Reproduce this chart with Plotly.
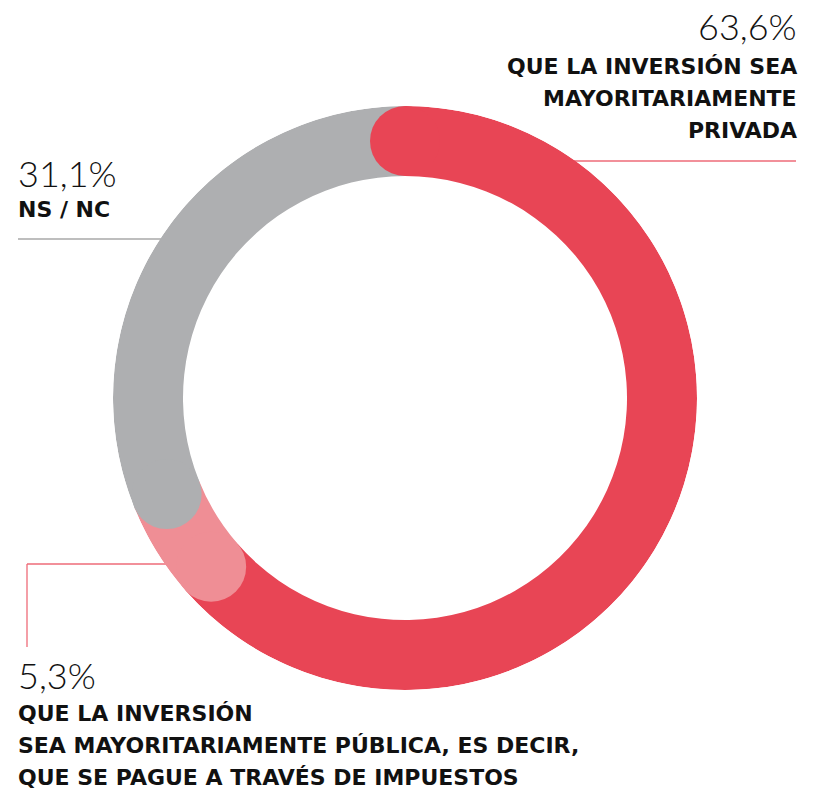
import plotly.graph_objects as go

# ---- data ----
categories = ["QUE LA INVERSIÓN SEA MAYORITARIAMENTE PRIVADA",
              "QUE LA INVERSIÓN SEA MAYORITARIAMENTE PÚBLICA, ES DECIR, QUE SE PAGUE A TRAVÉS DE IMPUESTOS",
              "NS / NC"]
values = [63.6, 5.3, 31.1]
pct_labels = ["63,6%", "5,3%", "31,1%"]
colors = ["#E84555", "#EF8E95", "#AEAFB1"]

W, H = 821, 790
CX, CY = 405, 398          # ring centre (px)
R_OUT, R_IN = 292, 222
THICK = R_OUT - R_IN

def px(x):
    return x / W

def py(y):
    return 1 - y / H

# angular geometry from the data
total = sum(values)
starts, spans = [], []
acc = 0.0
for v in values:
    starts.append(acc / total * 360)
    spans.append(v / total * 360)
    acc += v
mids = [s + w / 2 for s, w in zip(starts, spans)]

fig = go.Figure()
fig.add_trace(go.Barpolar(
    r=[THICK] * len(values), base=[R_IN] * len(values),
    theta=mids, width=spans,
    marker=dict(color=colors, line=dict(width=0)),
    hoverinfo="skip", showlegend=False,
))
# rounded caps at the start of every segment
fig.add_trace(go.Scatterpolar(
    r=[R_IN + THICK / 2] * len(values), theta=starts, mode="markers",
    marker=dict(size=THICK, color=colors, line=dict(width=0), opacity=1),
    hoverinfo="skip", showlegend=False,
))

fig.update_layout(
    width=W, height=H,
    margin=dict(l=0, r=0, t=0, b=0),
    paper_bgcolor="white",
    showlegend=False,
    polar=dict(
        domain=dict(x=[px(CX - R_OUT), px(CX + R_OUT)],
                    y=[py(CY + R_OUT), py(CY - R_OUT)]),
        bgcolor="rgba(0,0,0,0)",
        radialaxis=dict(range=[0, R_OUT], visible=False, showgrid=False,
                        showline=False, ticks=""),
        angularaxis=dict(rotation=90, direction="clockwise", visible=False,
                         showgrid=False, showline=False, ticks="",
                         thetaunit="degrees"),
    ),
)

NUM_FONT = dict(family="Lato", size=36, color="#111111", weight=300)
LBL_FONT = dict(family="DejaVu Sans", size=22, color="#111111", weight="bold")

def ann(text, x, y, xanchor, font):
    fig.add_annotation(text=text, x=px(x), y=py(y), xref="paper", yref="paper",
                       xanchor=xanchor, yanchor="middle", showarrow=False,
                       font=font)

# top right
ann(pct_labels[0], 799, 26, "right", NUM_FONT)
for i, t in enumerate(["QUE LA INVERSIÓN SEA", "MAYORITARIAMENTE", "PRIVADA"]):
    ann(t, 799, 66 + 32 * i, "right", LBL_FONT)
# left (NS/NC)
ann(pct_labels[2], 16, 173, "left", NUM_FONT)
ann("NS / NC", 16, 209, "left", LBL_FONT)
# bottom
ann(pct_labels[1], 16, 675, "left", NUM_FONT)
for i, t in enumerate(["QUE LA INVERSIÓN", "SEA MAYORITARIAMENTE PÚBLICA, ES DECIR,",
                       "QUE SE PAGUE A TRAVÉS DE IMPUESTOS"]):
    ann(t, 16, 713 + 32 * i, "left", LBL_FONT)

# leader lines
def seg(x0, y0, x1, y1, color):
    fig.add_shape(type="line", xref="paper", yref="paper",
                  x0=px(x0), y0=py(y0), x1=px(x1), y1=py(y1),
                  line=dict(color=color, width=1.3), layer="below")

seg(570, 161, 796, 161, "#EE6B78")
seg(18, 239, 165, 239, "#A9A9A9")
seg(27, 564, 170, 564, "#EE6B78")
seg(27, 564, 27, 647, "#EE6B78")

fig.write_html("out.html",
               config={"displayModeBar": False},
               post_script="document.body.style.margin='0';document.body.style.overflow='hidden';")
